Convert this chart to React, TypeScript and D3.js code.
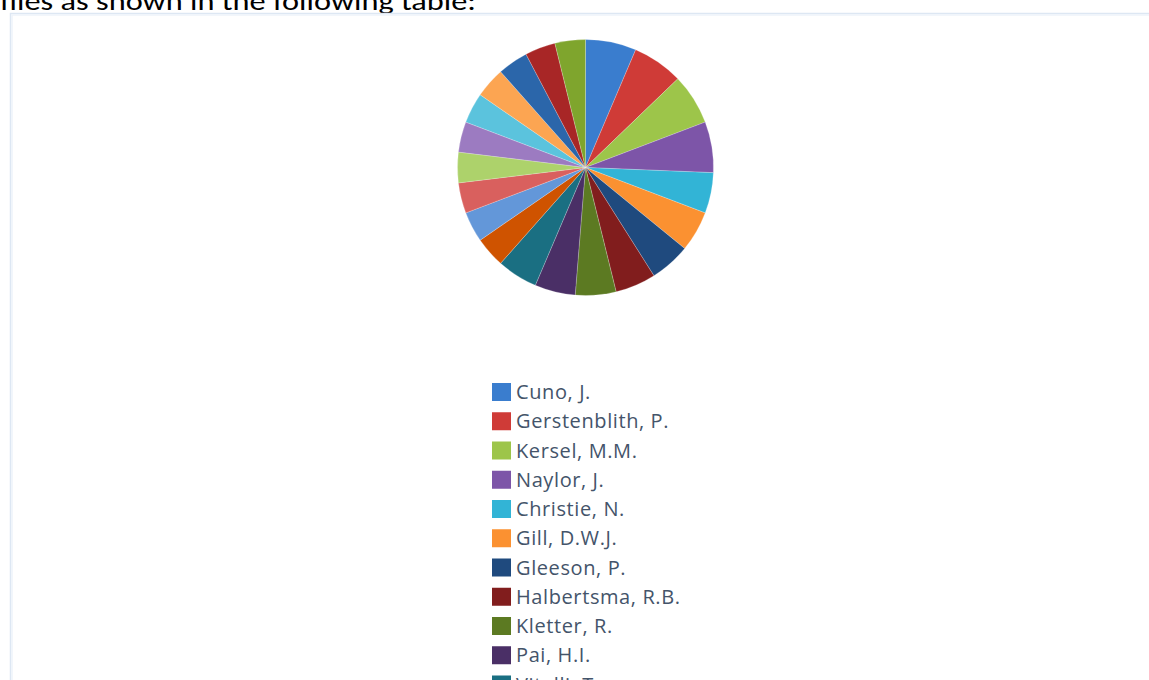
import React from "react";
import * as d3 from "d3";

const authors = [
  "Cuno, J.",
  "Gerstenblith, P.",
  "Kersel, M.M.",
  "Naylor, J.",
  "Christie, N.",
  "Gill, D.W.J.",
  "Gleeson, P.",
  "Halbertsma, R.B.",
  "Kletter, R.",
  "Pai, H.I.",
  "Vitelli, T.",
  "Author 12",
  "Author 13",
  "Author 14",
  "Author 15",
  "Author 16",
  "Author 17",
  "Author 18",
  "Author 19",
  "Author 20",
  "Author 21",
];

const counts = [5, 5, 5, 5, 4, 4, 4, 4, 4, 4, 4, 3, 3, 3, 3, 3, 3, 3, 3, 3, 3];

const colors = [
  "#3a7dce", "#cf3b37", "#9dc54a", "#7d55a8", "#32b4d6", "#fb9131",
  "#1f4a7e", "#811d1d", "#5c7a22", "#4a2f66", "#1a6f82", "#cf5300",
  "#6397d9", "#d9605e", "#add26b", "#9c7bc1", "#5bc3dd", "#fca552",
  "#2b66aa", "#a82626", "#7fa52d",
];

const headerText = "files as shown in the following table:";

export default function App() {
  const W = 1149, H = 680;
  const cx = 585.5, cy = 167.5, r = 128;
  const data = authors.map((a, i) => ({ name: a, value: counts[i], color: colors[i] }));
  const pie = d3.pie<any>().sort(null).value((d: any) => d.value).startAngle(0).endAngle(2 * Math.PI);
  const arc = d3.arc<any>().innerRadius(0).outerRadius(r);
  const arcs = pie(data);

  const legendX = 492, legendY0 = 383, legendStep = 29.25;

  return (
    <svg width={W} height={H} style={{ position: "absolute", left: 0, top: 0, background: "#fff" }}>
      <text x={0} y={10} fontFamily="Carlito, 'Open Sans', 'Liberation Sans', sans-serif" fontSize={26}
        fill="#000" textLength={476} lengthAdjust="spacingAndGlyphs">{headerText}</text>
      <rect x={10.5} y={13.5} width={W} height={H} fill="#fff" stroke="#dde7f3" strokeWidth={1.5} />
      <rect x={12} y={15} width={W} height={H} fill="none" stroke="#eef3fa" strokeWidth={1.5} />
      <g transform={`translate(${cx},${cy})`}>
        {arcs.map((a, i) => (
          <path key={i} d={arc(a) as string} fill={a.data.color} stroke="#ffffff" strokeOpacity={0.35} strokeWidth={0.6} />
        ))}
      </g>
      <g>
        {data.map((d, i) => {
          const y = legendY0 + i * legendStep;
          return (
            <g key={i}>
              <rect x={legendX} y={y} width={19} height={18} fill={d.color} />
              <text x={516} y={y + 9} dy="0.36em" fontFamily="'Open Sans', 'Noto Sans', sans-serif" fontSize={20}
                letterSpacing={0.6} fill="#44546a">{d.name}</text>
            </g>
          );
        })}
      </g>
    </svg>
  );
}
